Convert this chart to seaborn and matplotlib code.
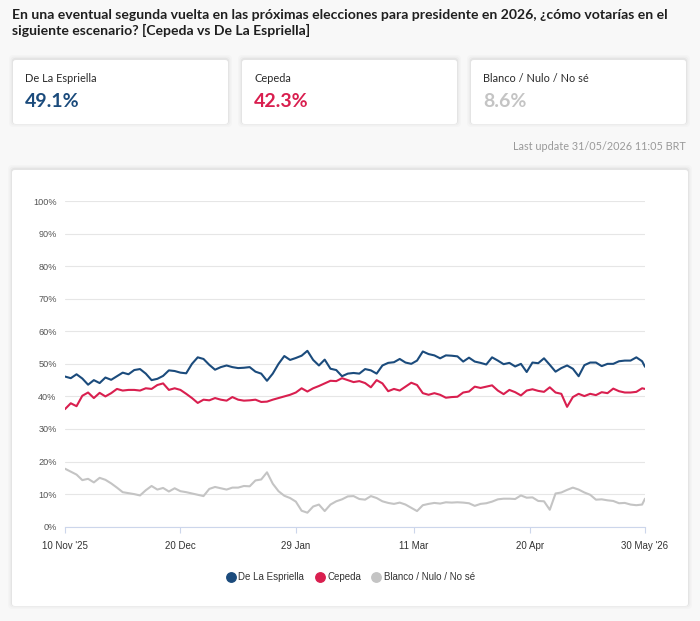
import matplotlib
matplotlib.use("Agg")
import matplotlib.pyplot as plt
from matplotlib.patches import FancyBboxPatch
from matplotlib.lines import Line2D
import seaborn as sns
import pandas as pd

# ---------------------------------------------------------------------------
# data: one reading every 2 days from 10 Nov 2025, plus the last day (30 May)
# ---------------------------------------------------------------------------
dates = list(pd.date_range("2025-11-10", "2026-05-29", freq="2D")) + [pd.Timestamp("2026-05-30")]

espriella = [
    46.1, 45.6, 46.8, 45.5, 43.6, 45.0, 44.1, 45.8, 45.1, 46.2, 47.3, 46.8, 48.1,
    48.4, 47.0, 45.0, 45.4, 46.3, 48.0, 47.8, 47.3, 47.1, 50.0, 52.0, 51.5, 49.7,
    48.2, 49.0, 49.5, 49.0, 48.7, 48.8, 49.0, 47.6, 47.0, 44.8, 47.0, 50.0, 52.4,
    51.2, 51.8, 52.5, 54.0, 51.2, 49.5, 51.3, 48.5, 48.1, 46.2, 47.0, 47.2,
    47.0, 48.4, 48.0, 47.0, 49.5, 50.3, 50.5, 51.5, 50.4, 50.0, 51.0, 53.8, 53.0,
    52.6, 51.7, 52.6, 52.5, 52.3, 50.7, 51.9, 50.7, 50.3, 49.8, 52.0, 51.0,
    49.9, 50.3, 49.2, 50.0, 47.5, 50.4, 50.2, 51.7, 49.7, 47.6, 48.7, 49.5, 48.5,
    46.2, 49.6, 50.4, 50.4, 49.3, 50.0, 50.0, 50.8, 51.0, 51.0, 52.0, 50.8,
    49.1,
]
cepeda = [
    36.1, 37.9, 37.0, 40.2, 41.2, 39.5, 41.1, 40.0, 41.0, 42.3, 41.8, 42.0, 42.0,
    41.8, 42.5, 42.3, 43.5, 44.0, 42.0, 42.5, 42.0, 40.8, 39.5, 38.0, 39.0, 38.8,
    39.5, 39.0, 38.7, 39.8, 39.0, 38.7, 38.8, 39.0, 38.3, 38.4, 39.0, 39.5, 40.0,
    40.5, 41.2, 42.5, 41.5, 42.5, 43.2, 44.0, 44.8, 44.7, 45.6, 45.0, 44.4,
    44.7, 44.1, 42.8, 45.0, 44.0, 41.6, 42.3, 41.8, 43.0, 44.2, 43.5, 41.0, 40.5,
    41.0, 40.5, 39.6, 39.8, 39.9, 41.2, 41.5, 43.0, 42.6, 43.0, 43.4, 41.8,
    40.7, 42.0, 41.3, 40.3, 41.8, 42.2, 41.7, 41.4, 42.8, 41.2, 40.8, 36.8, 39.8,
    40.8, 40.1, 40.8, 40.4, 41.3, 41.0, 42.4, 41.6, 41.2, 41.2, 41.4, 42.5,
    42.3,
]
blanco = [
    17.8, 16.9, 16.0, 14.3, 14.7, 13.6, 15.0, 14.4, 13.3, 12.0, 10.6, 10.3, 10.0,
    9.6, 11.2, 12.5, 11.4, 11.9, 10.8, 11.8, 10.9, 10.6, 10.2, 9.8, 9.4, 11.6,
    12.2, 11.8, 11.4, 12.0, 12.0, 12.5, 12.4, 14.2, 14.5, 16.7, 13.2, 10.9, 9.5,
    8.8, 7.7, 4.9, 4.3, 6.2, 6.8, 4.8, 6.8, 7.8, 8.4, 9.3, 9.4,
    8.5, 8.3, 9.4, 8.8, 7.8, 7.3, 7.0, 7.4, 6.8, 5.8, 4.8, 6.6, 7.0,
    7.3, 7.1, 7.5, 7.4, 7.5, 7.4, 7.2, 6.4, 7.0, 7.2, 7.7, 8.4,
    8.6, 8.6, 8.5, 9.6, 8.9, 9.0, 7.9, 7.8, 5.2, 10.2, 10.5, 11.3, 12.0,
    11.4, 10.5, 9.8, 8.3, 8.4, 8.1, 7.9, 7.2, 7.3, 6.8, 6.6, 6.8,
    8.6,
]

series_names = ["De La Espriella", "Cepeda", "Blanco / Nulo / No sé"]
latest_values = ["49.1%", "42.3%", "8.6%"]
colors = ["#1b4b7c", "#d91f4f", "#c4c4c4"]

tick_dates = ["2025-11-10", "2025-12-20", "2026-01-29", "2026-03-11", "2026-04-20", "2026-05-30"]
tick_labels = ["10 Nov '25", "20 Dec", "29 Jan", "11 Mar", "20 Apr", "30 May '26"]
y_ticks = [0, 10, 20, 30, 40, 50, 60, 70, 80, 90, 100]

title = ("En una eventual segunda vuelta en las próximas elecciones para presidente en 2026, ¿cómo votarías en el\n"
         "siguiente escenario? [Cepeda vs De La Espriella]")
last_update = "Last update 31/05/2026 11:05 BRT"

df = pd.DataFrame({
    "date": dates * 3,
    "value": espriella + cepeda + blanco,
    "serie": [series_names[0]] * len(dates) + [series_names[1]] * len(dates) + [series_names[2]] * len(dates),
})

# ---------------------------------------------------------------------------
sns.set_theme(style="white")
plt.rcParams["font.family"] = ["Liberation Sans", "DejaVu Sans"]

W, H = 700, 621
fig = plt.figure(figsize=(W / 100, H / 100), dpi=100)
fig.patch.set_facecolor("#f8f8f8")


def fx(x):
    return x / W


def fy(y):
    return 1 - y / H


def card(x0, y0, x1, y1):
    # soft shadow + white box, in pixel coordinates
    for grow, alpha in [(4, 0.015), (2.5, 0.025), (1.2, 0.04)]:
        fig.patches.append(FancyBboxPatch(
            (fx(x0 - grow), fy(y1 + grow - 1)), fx(x1 - x0 + 2 * grow), (y1 - y0 + 2 * grow) / H,
            boxstyle="round,pad=0,rounding_size=0.006", transform=fig.transFigure,
            facecolor="black", edgecolor="none", alpha=alpha, zorder=0))
    fig.patches.append(FancyBboxPatch(
        (fx(x0), fy(y1)), fx(x1 - x0), (y1 - y0) / H,
        boxstyle="round,pad=0,rounding_size=0.004", transform=fig.transFigure,
        facecolor="white", edgecolor="none", zorder=1))


# title
fig.text(fx(12), fy(9), title, ha="left", va="top", fontsize=10.1, family="Lato",
         fontweight="bold", color="#1f1f1f", linespacing=1.3)

# summary cards
card_x = [(13, 228), (242, 457), (471, 686)]
for (x0, x1), name, val, col in zip(card_x, series_names, latest_values, colors):
    card(x0, 60, x1, 124)
    fig.text(fx(x0 + 12), fy(79), name, ha="left", va="center", fontsize=7.9,
             family="Lato", color="#2a2a2a")
    fig.text(fx(x0 + 12), fy(101.5), val, ha="left", va="center", fontsize=14,
             family="Lato", fontweight="bold", color=col)

fig.text(fx(686), fy(147), last_update, ha="right", va="center", fontsize=7.8,
         family="Lato", color="#9a9a9a")

# chart panel
card(12, 170, 688, 606)

ax = fig.add_axes([fx(65), fy(526.7), fx(580), 325.7 / H])
ax.set_facecolor("white")
ax.set_zorder(2)

sns.lineplot(data=df, x="date", y="value", hue="serie", hue_order=series_names,
             palette=colors, linewidth=1.5, ax=ax, legend=False)

ax.set_xlim(pd.Timestamp(tick_dates[0]), pd.Timestamp(tick_dates[-1]))
ax.set_ylim(0, 100)
ax.set_yticks(y_ticks)
ax.set_yticklabels([f"{v}%" for v in y_ticks])
ax.set_xticks([pd.Timestamp(d) for d in tick_dates])
ax.set_xticklabels(tick_labels)
ax.set_xlabel("")
ax.set_ylabel("")

ax.grid(axis="y", color="#e6e6e6", linewidth=0.8)
ax.grid(axis="x", visible=False)
for side in ["top", "right", "left"]:
    ax.spines[side].set_visible(False)
ax.spines["bottom"].set_color("#ccd6eb")
ax.spines["bottom"].set_linewidth(0.8)
ax.tick_params(axis="y", length=0, pad=6, labelsize=6.6, labelcolor="#555555")
ax.tick_params(axis="x", length=4, width=0.8, color="#ccd6eb", pad=6, labelsize=7,
               labelcolor="#333333", bottom=True)

# legend
handles = [Line2D([], [], marker="o", linestyle="none", markersize=6.8, color=c) for c in colors]
fig.legend(handles, series_names, loc="center", bbox_to_anchor=(fx(350), fy(577.5)), ncol=3,
           frameon=False, fontsize=7, handletextpad=0.15, columnspacing=1.0,
           labelcolor="#333333", handlelength=1.2)

fig.savefig("out.png", dpi=100, facecolor=fig.get_facecolor())
